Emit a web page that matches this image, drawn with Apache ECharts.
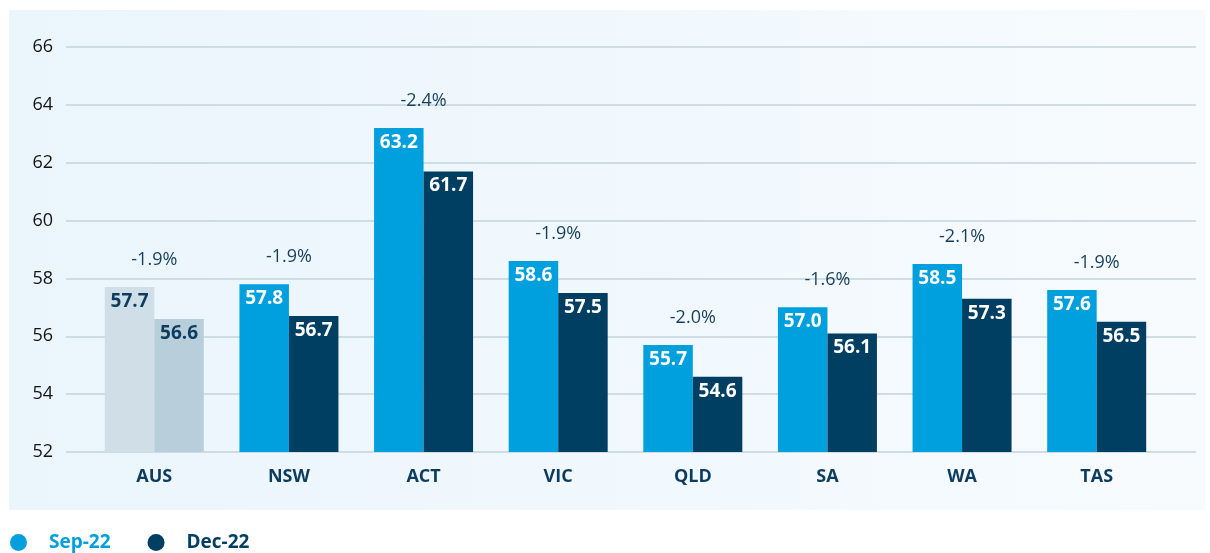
<!DOCTYPE html>
<html>
<head>
<meta charset="utf-8">
<script src="https://cdn.jsdelivr.net/npm/echarts@6/dist/echarts.min.js"></script>
<style>
  html, body { margin: 0; padding: 0; background: #fff; }
  #chart { width: 1210px; height: 553px; }
</style>
</head>
<body>
<div id="chart"></div>
<script>
const regions = ['AUS', 'NSW', 'ACT', 'VIC', 'QLD', 'SA', 'WA', 'TAS']
const sep22 = [57.7, 57.8, 63.2, 58.6, 55.7, 57.0, 58.5, 57.6]
const dec22 = [56.6, 56.7, 61.7, 57.5, 54.6, 56.1, 57.3, 56.5]
const changeLabels = ['-1.9%', '-1.9%', '-2.4%', '-1.9%', '-2.0%', '-1.6%', '-2.1%', '-1.9%']
const yTicks = [52, 54, 56, 58, 60, 62, 64, 66]

const SEP = '#00a0df'
const DEC = '#003f62'
const DARK = '#0d3d5e'
const FONT = 'Open Sans'

const chart = echarts.init(document.getElementById('chart'))

function barData(values, normal, muted) {
  return values.map((v, i) => {
    const isAus = regions[i] === 'AUS'
    return {
      value: v,
      itemStyle: { color: isAus ? muted : normal },
      label: { color: isAus ? DARK : '#fff' },
    }
  })
}

const valueLabel = {
  show: true,
  position: 'insideTop',
  distance: 5,
  fontFamily: FONT,
  fontWeight: 'bold',
  fontSize: 19,
  formatter: (p) => p.value.toFixed(1),
}

chart.setOption({
  animation: false,
  graphic: [
    {
      type: 'rect',
      z: -100,
      silent: true,
      shape: { x: 9, y: 10, width: 1196, height: 500 },
      style: {
        fill: new echarts.graphic.LinearGradient(0, 0, 1, 0, [
          { offset: 0, color: '#eaf5fc' },
          { offset: 1, color: '#f7fbfe' },
        ]),
      },
    },
  ],
  legend: {
    left: 10,
    top: 533,
    padding: 0,
    icon: 'circle',
    itemWidth: 17,
    itemHeight: 17,
    itemGap: 37,
    textStyle: { fontFamily: FONT, fontSize: 19, fontWeight: 'bold', padding: [0, 0, 0, 17] },
    data: [
      { name: 'Sep-22', textStyle: { color: SEP } },
      { name: 'Dec-22', textStyle: { color: DEC } },
    ],
  },
  grid: [
    { left: 66, right: 14, top: 47, bottom: 101 },
    { left: 87, right: 46, top: 47, bottom: 101 },
  ],
  xAxis: [
    { type: 'value', gridIndex: 0, show: false, min: 0, max: 1 },
    {
      type: 'category',
      gridIndex: 1,
      data: regions,
      axisLine: { show: false },
      axisTick: { show: false },
      axisLabel: {
        margin: 16,
        color: DARK,
        fontFamily: FONT,
        fontWeight: 'bold',
        fontSize: 18,
      },
    },
  ],
  yAxis: [
    {
      type: 'value',
      gridIndex: 0,
      min: yTicks[0],
      max: yTicks[yTicks.length - 1],
      interval: 2,
      axisLine: { show: false },
      axisTick: { show: false },
      axisLabel: { margin: 13, color: '#141414', fontFamily: FONT, fontSize: 18 },
      splitLine: { lineStyle: { color: '#c3d3db', width: 1.5 } },
    },
    {
      type: 'value',
      gridIndex: 1,
      min: yTicks[0],
      max: yTicks[yTicks.length - 1],
      show: false,
      splitLine: { show: false },
    },
  ],
  series: [
    {
      name: 'Sep-22',
      type: 'bar',
      xAxisIndex: 1,
      yAxisIndex: 1,
      barWidth: 49.5,
      barGap: '0%',
      itemStyle: { color: SEP },
      label: valueLabel,
      data: barData(sep22, SEP, '#d0dfe7'),
    },
    {
      name: 'Dec-22',
      type: 'bar',
      xAxisIndex: 1,
      yAxisIndex: 1,
      barWidth: 49.5,
      barGap: '0%',
      itemStyle: { color: DEC },
      label: valueLabel,
      data: barData(dec22, DEC, '#b8cfdb'),
    },
    {
      name: 'change',
      type: 'scatter',
      xAxisIndex: 1,
      yAxisIndex: 1,
      symbolSize: 1,
      itemStyle: { color: '#eef7fc', opacity: 0 },
      silent: true,
      label: {
        show: true,
        position: 'top',
        distance: 18,
        color: '#173f5c',
        opacity: 1,
        fontFamily: FONT,
        fontSize: 18,
        formatter: (p) => changeLabels[p.dataIndex],
      },
      data: sep22.map((v, i) => Math.max(v, dec22[i])),
    },
  ],
})
</script>
</body>
</html>
